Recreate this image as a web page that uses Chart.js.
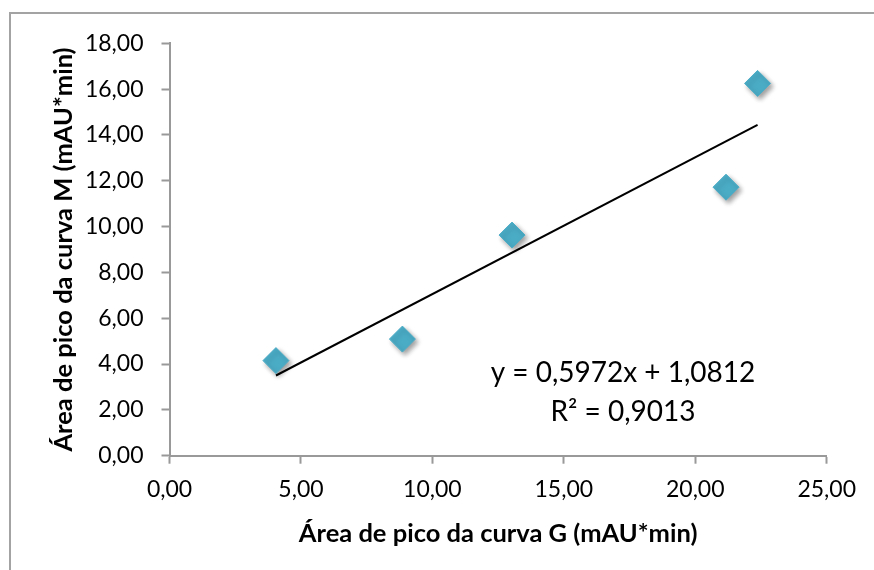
<!DOCTYPE html>
<html>
<head>
<meta charset="utf-8">
<script src="https://cdn.jsdelivr.net/npm/chart.js@4/dist/chart.umd.min.js"></script>
<style>
  html, body { margin: 0; padding: 0; background: #fff; overflow: hidden; width: 874px; height: 570px; }
  #frame { position: absolute; left: 9px; top: 12px; width: 1000px; height: 1000px; border: 2px solid #A3A3A3; box-sizing: border-box; }
  #wrap { position: absolute; left: 0; top: 0; width: 874px; height: 570px; }
</style>
</head>
<body>
<div id="frame"></div>
<div id="wrap"><canvas id="c" width="874" height="570"></canvas></div>
<script>
// ---- data ----
const areaG = [4.05, 8.86, 13.03, 21.17, 22.37];      // x values (mAU*min)
const areaM = [4.15, 5.09, 9.63, 11.72, 16.25];       // y values (mAU*min)
const trendX = [4.05, 22.37];                          // trendline ends (x)
const trendY = [3.50, 14.44];                          // trendline ends (y)
const xTicks = [0, 5, 10, 15, 20, 25];
const yTicks = [0, 2, 4, 6, 8, 10, 12, 14, 16, 18];
const equationText = ['y = 0,5972x + 1,0812', 'R² = 0,9013'];
const xTitle = 'Área de pico da curva G (mAU*min)';
const yTitle = 'Área de pico da curva M (mAU*min)';

const fmt = v => v.toFixed(2).replace('.', ',');

const shadowPlugin = {
  id: 'markerShadow',
  beforeDatasetDraw(chart, args) {
    if (args.meta.type === 'scatter' && args.index === 0) {
      const c = chart.ctx;
      c.save();
      c.shadowColor = 'rgba(0,0,0,0.38)';
      c.shadowBlur = 5;
      c.shadowOffsetX = 2.5;
      c.shadowOffsetY = 3;
    }
  },
  afterDatasetDraw(chart, args) {
    if (args.meta.type === 'scatter' && args.index === 0) chart.ctx.restore();
  }
};

const eqPlugin = {
  id: 'equation',
  afterDraw(chart) {
    const a = chart.chartArea, c = chart.ctx;
    c.save();
    c.fillStyle = '#000';
    c.font = '28px Lato';
    c.textAlign = 'center';
    c.textBaseline = 'middle';
    const cx = a.left + 0.69 * (a.right - a.left);
    c.fillText(equationText[0], cx, a.top + 0.80 * (a.bottom - a.top));
    c.fillText(equationText[1], cx, a.top + 0.894 * (a.bottom - a.top));
    c.restore();
  }
};

new Chart(document.getElementById('c'), {
  type: 'scatter',
  data: {
    datasets: [
      {
        type: 'scatter',
        data: areaG.map((x, i) => ({ x, y: areaM[i] })),
        pointStyle: 'rectRot',
        pointRadius: 13,
        pointHoverRadius: 13,
        backgroundColor: '#4BACC6',
        borderColor: '#4BACC6',
        borderWidth: 1,
        order: 1
      },
      {
        type: 'line',
        data: trendX.map((x, i) => ({ x, y: trendY[i] })),
        borderColor: '#000',
        borderWidth: 2,
        pointRadius: 0,
        fill: false,
        order: 0
      }
    ]
  },
  options: {
    responsive: false,
    animation: false,
    events: [],
    layout: { padding: { top: 43.3, right: 47.3, bottom: 0, left: 0 } },
    plugins: { legend: { display: false }, tooltip: { enabled: false } },
    scales: {
      x: {
        type: 'linear',
        min: 0, max: 25,
        afterBuildTicks: s => { s.ticks = xTicks.map(v => ({ value: v })); },
        afterFit: s => { s.height = 114.3; },
        ticks: { callback: v => fmt(v), color: '#000', font: { family: 'Lato', size: 23 }, padding: 12 },
        grid: { drawOnChartArea: false, drawTicks: true, tickLength: 8, tickWidth: 2, tickColor: '#999' },
        border: { color: '#999', width: 2 },
        title: { display: true, text: xTitle, color: '#000', font: { family: 'Lato', size: 25.5, weight: 'bold' }, padding: { top: 0, bottom: 21 } }
      },
      y: {
        type: 'linear',
        min: 0, max: 18,
        afterBuildTicks: s => { s.ticks = yTicks.map(v => ({ value: v })); },
        afterFit: s => { s.width = 169.5; },
        ticks: { callback: v => fmt(v), color: '#000', font: { family: 'Lato', size: 23 }, padding: 18 },
        grid: { drawOnChartArea: false, drawTicks: true, tickLength: 8, tickWidth: 2, tickColor: '#999' },
        border: { color: '#999', width: 2 },
        title: { display: true, text: yTitle, color: '#000', font: { family: 'Lato', size: 25.5, weight: 'bold' }, padding: { top: 48, bottom: 0 } }
      }
    }
  },
  plugins: [shadowPlugin, eqPlugin]
});
</script>
</body>
</html>
